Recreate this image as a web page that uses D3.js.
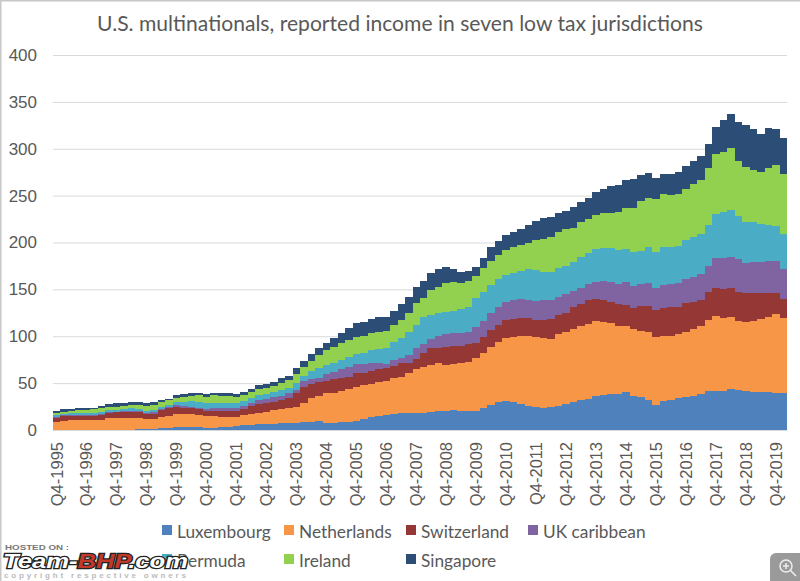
<!DOCTYPE html>
<html>
<head>
<meta charset="utf-8">
<script src="https://cdn.jsdelivr.net/npm/d3@7"></script>
<style>
  html, body { margin: 0; padding: 0; background: #fff; }
  svg { display: block; font-family: Lato, "Open Sans", sans-serif; }
  .axis text { fill: #595959; }
</style>
</head>
<body>
<div id="chart"></div>
<script>
var seriesNames = ["Luxembourg","Netherlands","Switzerland","UK caribbean","Bermuda","Ireland","Singapore"];
var seriesColors = ["#4f81bd","#f79646","#953735","#8064a2","#4bacc6","#92d050","#2c4d75"];
var yTicks = [0,50,100,150,200,250,300,350,400];

// one value per quarter, Q4-1995 to Q1-2020
var luxembourg = [0.4,0.4,0.4,0.4,0.5,0.5,0.5,0.5,0.5,0.5,0.5,0.6,1,1.5,2,2.5,2.9,3,3.2,3,2.2,2.5,3.2,3.5,4.6,5,5.2,6,6.2,6.8,7.2,7.8,8,8.2,8.9,9.6,7.8,7.1,8.2,8.9,10,11.4,13.5,14.9,16,17,17.8,18.1,18.5,18.5,19,19.9,20.3,21.3,20.3,19.9,20.3,23.1,26.7,29.5,31.3,29.5,27.7,25.6,24.2,23.5,24.2,25.9,27.7,29.5,31.6,33.4,36.2,37.7,38.4,38.7,40.5,36.6,34.8,32,27,31,32,33.8,35.5,36.6,38,41.6,41.6,42,43.7,42.6,41.6,40.9,40.2,40.2,39.4,39];
var netherlands = [8.1,9.2,9.9,9.9,9.8,9.9,10.5,11.9,12.1,12.1,12.1,11.8,10.5,10,11.5,12.5,13.8,14,13.8,13,12.7,12.4,11,10.7,9.6,11,11.8,12.5,13.3,14.5,15.2,15.3,17,20.2,24.9,27,31.2,32.9,33.8,34.5,36,36.6,35.5,36.6,36.6,38,39.1,42.3,46.2,49,50.3,51.1,49,49.1,51.5,53,56.1,59.3,62.1,64.7,67.1,70,72.5,74.6,75.3,74.9,72.5,76.4,76.4,78.2,79.6,79.3,79.6,77.8,75.3,72.5,70.7,70.7,71.1,72.5,71.8,69,68.6,68.2,69.3,71.1,73.2,75.7,79.9,78,77.1,73.6,73.2,75.3,77.8,80.6,83.9,80];
var switzerland = [3.9,5,5,5,5,5,5,5.6,6.2,6.4,6.6,6.6,6,6,7.5,8,8.2,6.1,6.8,6,5.7,5.7,5.7,5.7,5.7,6,8.6,9.2,8.9,8.9,9.6,11.4,14,18,15.2,14.9,13.6,14,14,13.5,15,13,14.3,13.2,13.1,13.2,14.1,11.6,11.3,14.2,17.7,17,19.5,19.1,18.1,18.8,16.7,17.1,17.8,17.7,18.9,18.5,18.8,18.8,17.8,18.9,21.3,20.3,20.9,23.8,23.1,25.9,23.5,23.1,23.1,23.1,22.1,22.4,26.7,28.1,29.2,30,30.2,28.8,30.2,29.1,27.4,29.5,29.5,30,30.9,31.3,30.9,29.5,27.7,24.9,23.1,20.7];
var ukCaribbean = [1.1,1,0.7,0.7,0.7,0.8,1,0.8,0.7,1,1.3,1,1,1.5,1.5,1.2,1.8,2.5,1.1,1.1,1.8,2.5,3.2,3.2,3.2,3.9,3.5,4.3,4.3,4.6,4.2,4.5,3.6,6.2,5,4.5,7.1,8.2,8.7,9.9,9.4,9.4,7.7,7.3,4.7,6.4,5.4,8,11,10.3,9.6,12.2,13.5,13.5,13.1,13.1,17.1,17.1,17.8,19.6,19.5,20.6,20.3,19.6,20.6,21.3,20.6,19.5,19.6,17,17.7,17.1,18.7,20.7,20.6,21.4,24.1,24.2,23.1,23.8,24,25,24.5,25.6,25.6,26.7,27.7,28,32,33.7,33.1,34.8,32,33,33.8,34.5,33.8,31.6];
var bermuda = [2.1,1.4,1.8,1.8,1.8,1.8,2.5,2.5,2.3,2.5,2.5,2,2,2.3,2,2.8,3.3,4.6,6,6.4,6,6,6,6,6,5,4.7,5.3,5.3,5.4,6.4,5.4,7.9,5.3,8.9,9.7,9.6,9.6,9.9,11.4,10.3,11.3,14.3,14,16.6,19.6,21.3,24.8,25,28.8,26,24.2,23.9,24.2,25.6,26.7,30.2,30.9,30.2,29.1,28.4,29.1,30.6,32.7,32.7,30.2,30.2,30.3,30.2,30.2,32.8,32.6,35,35.1,36.3,36.2,35.2,35.5,35.5,38.3,38,40,40.2,40.1,42,41.9,42.3,43.7,47,49.1,49.7,46.2,44.3,42.7,40.5,38.8,37.6,37.3];
var ireland = [2.9,2.5,2.7,3.2,3.2,4,3.5,3.2,3.2,3,4,4.8,5.5,5.7,5,4.6,4.5,5.3,5.7,7.5,7.1,7.9,7.5,7.5,6.4,6.4,6.4,6.1,7.1,6.7,7.9,8.9,8.8,9.6,10.7,14.3,16,16.3,18.5,17.8,18.1,18.5,17.7,18.8,18.5,17.8,19.6,19.6,23,19.6,26.7,28.4,30.8,30.2,27.8,27.3,23.8,24.9,25.9,26,26.7,27.7,27.3,27.7,32,34.8,36.6,39,39.5,37,37.2,36.3,36.2,36.6,38,40.9,43.7,46.9,53.3,53.3,56,56.5,55,55.1,55,56.6,57.9,60.5,63.9,63.9,65.8,58.3,58.7,55.6,55.4,61,64.7,64.4];
var singapore = [2,2.5,2,2,2,2,2.5,3.5,3.5,3.5,3,2.7,3,3,2,1.4,2.5,2.9,2.4,2,3,2,2.4,2.4,2.5,3.7,3.8,4.1,3.9,4.6,4.5,4.7,6.7,6.5,7.4,8,7.1,10.4,10.9,12.4,15.6,14.8,15,16,15.5,15,16.7,17.6,18,18.6,17.7,18.5,16.4,14.6,12.6,11.2,9.8,10.6,14.5,15.4,16.1,16.1,16.8,19.5,20.4,22.1,22.1,19.6,19.7,21.8,21.5,23.4,24.2,26,28.3,28.7,30.7,31.2,27.5,26.6,23,21.1,23.1,23.1,23.8,24.8,25.9,26.6,29.5,33.8,37.3,41.9,44.3,44,40.8,42.3,38.5,38];

var seriesValues = [luxembourg, netherlands, switzerland, ukCaribbean, bermuda, ireland, singapore];

// quarter labels, the axis only shows the Q4 ones
var quarters = ["Q4-1995"];
for (var yr = 1996; yr <= 2020; ++yr) {
  ["Q1","Q2","Q3","Q4"].forEach(function(q) {
    if (yr < 2020 || q == "Q1") quarters.push(q + "-" + yr);
  });
}
var xTickLabels = quarters.filter(function(q) { return q.slice(0, 2) == "Q4"; });

var table = quarters.map(function(q, i) {
  var row = {quarter: q};
  seriesNames.forEach(function(name, k) { row[name] = seriesValues[k][i]; });
  return row;
});

var svg = d3.select("#chart")
  .append("svg")
  .attr("width", 800)
  .attr("height", 581);

svg.append("rect")
    .attr("x", 0.5).attr("y", 0.5)
    .attr("width", 810).attr("height", 600)
    .attr("fill", "#fff")
    .attr("stroke", "#c8c8c8")
    .attr("stroke-width", 2);

var margin = {top: 55, right: 13, bottom: 151, left: 53},
    width = 800 - margin.left - margin.right,
    height = 581 - margin.top - margin.bottom;

var x = d3.scaleBand()
    .domain(quarters)
    .range([0, width])
    .padding(0);

var y = d3.scaleLinear()
    .domain([0, 400])
    .range([height, 0]);

var g = svg.append("g")
    .attr("transform", "translate(" + margin.left + "," + margin.top + ")");

var yAxis = g.append("g")
    .attr("class", "axis axis--y")
    .call(d3.axisLeft(y).tickValues(yTicks).tickSize(-width).tickPadding(16));
yAxis.select(".domain").remove();
yAxis.selectAll("line").attr("stroke", "#d9d9d9");
yAxis.selectAll("text").style("font-size", "17px");

var stack = d3.stack().keys(seriesNames)(table);

// crisp edges so the touching bars leave no seams
g.append("g")
    .attr("class", "bars")
    .attr("shape-rendering", "crispEdges")
  .selectAll("g").data(stack).enter().append("g")
    .attr("fill", function(d, i) { return seriesColors[i]; })
  .selectAll("rect").data(function(d) { return d; }).enter().append("rect")
    .attr("x", function(d) { return x(d.data.quarter); })
    .attr("width", x.bandwidth())
    .attr("y", function(d) { return y(d[1]); })
    .attr("height", function(d) { return y(d[0]) - y(d[1]); });

var xAxis = g.append("g")
    .attr("class", "axis axis--x")
    .attr("transform", "translate(0," + height + ")")
    .call(d3.axisBottom(x).tickValues(xTickLabels).tickSize(0));
xAxis.select(".domain").attr("stroke", "#d9d9d9");
xAxis.selectAll("text")
    .style("font-size", "16.5px")
    .style("text-anchor", "end")
    .attr("transform", "rotate(-90)")
    .attr("x", -12)
    .attr("y", 0)
    .attr("dy", ".35em");

svg.append("text")
    .attr("x", 400)
    .attr("y", 31)
    .attr("text-anchor", "middle")
    .style("font-size", "21.1px")
    .style("fill", "#595959")
    .text("U.S. multinationals, reported income in seven low tax jurisdictions");

// legend, four to a row
var legend = svg.selectAll(".legend")
    .data(seriesNames)
  .enter().append("g")
    .attr("class", "legend")
    .attr("transform", function(d, i) {
      return "translate(" + (162 + (i % 4) * 122) + "," + (531 + Math.floor(i / 4) * 29) + ")";
    });

legend.append("rect")
    .attr("y", -6)
    .attr("width", 10)
    .attr("height", 10)
    .style("fill", function(d, i) { return seriesColors[i]; });

legend.append("text")
    .attr("x", 15)
    .attr("dy", ".38em")
    .style("font-size", "17.3px")
    .style("fill", "#595959")
    .text(function(d) { return d; });

// watermark of the hosting site, sits over the legend
var mark = svg.append("g").attr("class", "watermark");

mark.append("text")
    .attr("x", 5).attr("y", 550)
    .attr("textLength", 64).attr("lengthAdjust", "spacingAndGlyphs")
    .style("font-size", "8px").style("font-weight", "bold")
    .style("font-family", "'Liberation Sans'")
    .style("fill", "#777")
    .text("HOSTED ON :");

var brand = mark.append("text")
    .attr("x", 3).attr("y", 568)
    .attr("textLength", 185).attr("lengthAdjust", "spacingAndGlyphs")
    .style("font-family", "'Liberation Sans'")
    .style("font-size", "20px").style("font-weight", "bold").style("font-style", "italic")
    .style("stroke", "#222").style("stroke-width", "2.4px").style("paint-order", "stroke")
    .style("fill", "#fff");
brand.append("tspan").text("Team-");
brand.append("tspan").style("fill", "#c0392b").text("BHP");
brand.append("tspan").text(".com");

mark.append("text")
    .attr("x", 4).attr("y", 578)
    .attr("textLength", 182).attr("lengthAdjust", "spacing")
    .style("font-family", "'Liberation Sans'")
    .style("font-size", "8px").style("font-weight", "bold")
    .style("fill", "#bbb")
    .text("copyright respective owners");

// zoom button, bottom right corner
var lens = svg.append("g");
lens.append("rect")
    .attr("x", 770).attr("y", 553)
    .attr("width", 40).attr("height", 40).attr("rx", 6)
    .attr("fill", "#9a9a9a");
lens.append("circle")
    .attr("cx", 786).attr("cy", 566).attr("r", 6)
    .attr("fill", "none").attr("stroke", "#eee").attr("stroke-width", 1.5);
lens.append("path")
    .attr("d", "M790.5,570.5L796,576M783,566H789M786,563V569")
    .attr("fill", "none").attr("stroke", "#eee").attr("stroke-width", 1.5);
</script>
</body>
</html>
